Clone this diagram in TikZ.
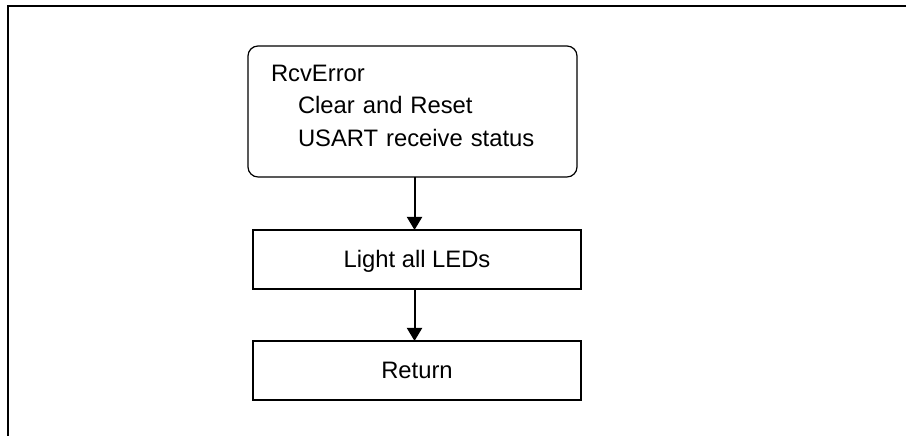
\documentclass[tikz,border=0pt]{standalone}
\usepackage{fontspec}
\setmainfont{Liberation Sans}
\usetikzlibrary{arrows.meta, positioning}

\begin{document}
\begin{tikzpicture}[
  x=1pt, y=-1pt,
  font=\fontsize{23.8}{32.5}\selectfont,
  roundbox/.style={draw, line width=1.2pt, rounded corners=10pt, align=left, outer sep=0pt,
    text width=283pt, inner xsep=23pt, inner ysep=19pt, text depth=76.6pt},
  stepbox/.style={draw, line width=2pt, minimum width=328pt, minimum height=59pt, outer sep=0pt,
    text height=16.4pt, text depth=0pt, inner sep=0pt},
  flow/.style={line width=2pt, -{Triangle[length=13pt, width=15pt]}}
]
\useasboundingbox (0,0) rectangle (911,436);
% frame
\draw[line width=1.5pt] (906,6) -- (8,6) -- (8,436);
% boxes
\node[roundbox, anchor=north west] (rcv) at (248,46) {RcvError\\
\hspace*{27pt}Clear and Reset\\
\hspace*{27pt}USART receive status};
\node[stepbox, below=53pt of rcv, xshift=4.5pt] (leds) {Light all LEDs};
\node[stepbox, below=52pt of leds] (ret) {Return};
% arrows
\draw[flow] ([xshift=-2.5pt]leds.north |- rcv.south) -- ([xshift=-2.5pt]leds.north);
\draw[flow] ([xshift=-2.5pt]leds.south) -- ([xshift=-2.5pt]ret.north);
\end{tikzpicture}
\end{document}
